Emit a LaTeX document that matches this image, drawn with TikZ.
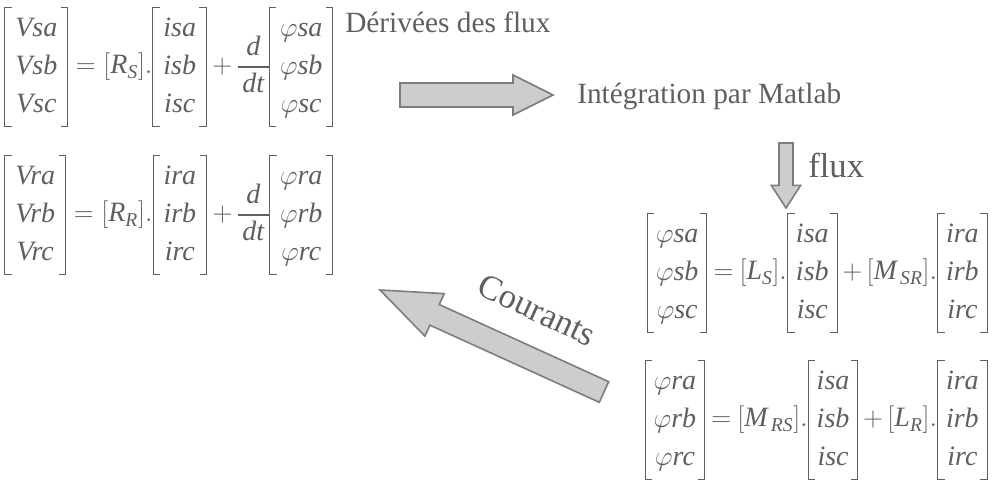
\documentclass[tikz,border=0pt]{standalone}
\usepackage{amsmath}
\usepackage{fontspec}
\setmainfont{Liberation Serif}
\usetikzlibrary{calc}
\definecolor{txtgray}{RGB}{95,95,95}
\definecolor{arrfill}{RGB}{205,205,205}
\definecolor{arredge}{RGB}{125,125,125}
\newcommand\tx[1]{\textit{#1}}
\newcommand\ph{$\varphi$}
\newcommand\eqs{\thickmuskip=5mu\relax\medmuskip=3.5mu\relax\nulldelimiterspace=0pt\relax}
\newlength\brw \setlength\brw{0.75pt}
\newlength\brs \setlength\brs{5pt}
\newlength\bre \setlength\bre{2pt}
\newlength\brk \setlength\brk{6pt}
\newsavebox\cvbox
\newcommand\lbrk{%
  \vrule width\brw height\dimexpr\ht\cvbox+\bre\relax depth\dimexpr\dp\cvbox+\bre\relax
  \rlap{\vrule width\brs height\dimexpr\ht\cvbox+\bre\relax depth\dimexpr-\ht\cvbox-\bre+\brw\relax}%
  \rlap{\vrule width\brs height\dimexpr-\dp\cvbox-\bre+\brw\relax depth\dimexpr\dp\cvbox+\bre\relax}}
\newcommand\rbrk{%
  \llap{\vrule width\brs height\dimexpr\ht\cvbox+\bre\relax depth\dimexpr-\ht\cvbox-\bre+\brw\relax}%
  \llap{\vrule width\brs height\dimexpr-\dp\cvbox-\bre+\brw\relax depth\dimexpr\dp\cvbox+\bre\relax}%
  \vrule width\brw height\dimexpr\ht\cvbox+\bre\relax depth\dimexpr\dp\cvbox+\bre\relax}
\newcommand\colvec[3]{\sbox\cvbox{\renewcommand\arraystretch{1.19}\begin{tabular}{@{}c@{}}#1\\#2\\#3\end{tabular}}%
  \vcenter{\hbox{\lbrk\kern\brk\usebox\cvbox\kern\brk\rbrk}}}
\newcommand\blockarrow[5]{%
  \path ($(#2)!#5!(#1)$) coordinate (hb);
  \filldraw[barrow] ($(#1)!#3!90:(#2)$) -- ($(hb)!#3!90:(#2)$) -- ($(hb)!#4!90:(#2)$) -- (#2)
     -- ($(hb)!#4!-90:(#2)$) -- ($(hb)!#3!-90:(#2)$) -- ($(#1)!#3!-90:(#2)$) -- cycle;}
\tikzset{
  eq/.style={text=txtgray, inner sep=0pt, font=\fontsize{21}{24}\selectfont},
  lbl/.style={text=txtgray, inner sep=0pt, font=\fontsize{22}{26}\selectfont},
  biglbl/.style={text=txtgray, inner sep=0pt, font=\fontsize{26}{30}\selectfont},
  barrow/.style={fill=arrfill, draw=arredge, line width=1.2pt, line join=miter}
}
\begin{document}
\begin{tikzpicture}[x=0.75pt,y=-0.75pt]
\useasboundingbox (0,0) rectangle (992,481);
% left equations
\node[eq, anchor=west] (e1) at (4,67) {\setlength\brk{7.5pt}$\eqs\colvec{\tx{Vsa}}{\tx{Vsb}}{\tx{Vsc}}=[\tx{R}_{\tx{S}}]{.}\colvec{\tx{isa}}{\tx{isb}}{\tx{isc}}+\dfrac{\tx{d}}{\,\tx{dt}\,}\colvec{\ph\tx{sa}}{\ph\tx{sb}}{\ph\tx{sc}}$};
\node[eq, anchor=west] (e2) at (4,215) {\setlength\brk{7.5pt}$\eqs\colvec{\tx{Vra}}{\tx{Vrb}}{\tx{Vrc}}=[\tx{R}_{\tx{R}}]{.}\colvec{\tx{ira}}{\tx{irb}}{\tx{irc}}+\dfrac{\tx{d}}{\,\tx{dt}\,}\colvec{\ph\tx{ra}}{\ph\tx{rb}}{\ph\tx{rc}}$};
% right equations
\node[eq, anchor=east] (e3) at (988,273) {$\thickmuskip=4mu\medmuskip=3mu\nulldelimiterspace=0pt\colvec{\ph\tx{sa}}{\ph\tx{sb}}{\ph\tx{sc}}=[\tx{L}_{\tx{S}}]{.}\colvec{\tx{isa}}{\tx{isb}}{\tx{isc}}+[\tx{M}_{\,\tx{SR}}]{.}\colvec{\tx{ira}}{\tx{irb}}{\tx{irc}}$};
\node[eq, anchor=east] (e4) at (988,420) {$\thickmuskip=4mu\medmuskip=3mu\nulldelimiterspace=0pt\colvec{\ph\tx{ra}}{\ph\tx{rb}}{\ph\tx{rc}}=[\tx{M}_{\,\tx{RS}}]{.}\colvec{\tx{isa}}{\tx{isb}}{\tx{isc}}+[\tx{L}_{\tx{R}}]{.}\colvec{\tx{ira}}{\tx{irb}}{\tx{irc}}$};
% labels
\node[lbl, anchor=west] (der) at (345,22) {Dérivées des flux};
\node[lbl, anchor=west] (integ) at (577,96) {Intégration par Matlab};
\node[biglbl, anchor=west] (flux) at (808,165) {flux};
\node[biglbl, rotate=-25] (cour) at (537,310) {Courants};
% arrows
\coordinate (r1) at (400,95);  \coordinate (r2) at (553,95);
\coordinate (d1) at (786,143); \coordinate (d2) at (786,208);
\coordinate (c1) at (604,392); \coordinate (c2) at (380,290);
\blockarrow{r1}{r2}{9pt}{15pt}{30pt}
\blockarrow{d1}{d2}{5.25pt}{11pt}{17pt}
\blockarrow{c1}{c2}{8.5pt}{17.5pt}{45pt}
\end{tikzpicture}
\end{document}
